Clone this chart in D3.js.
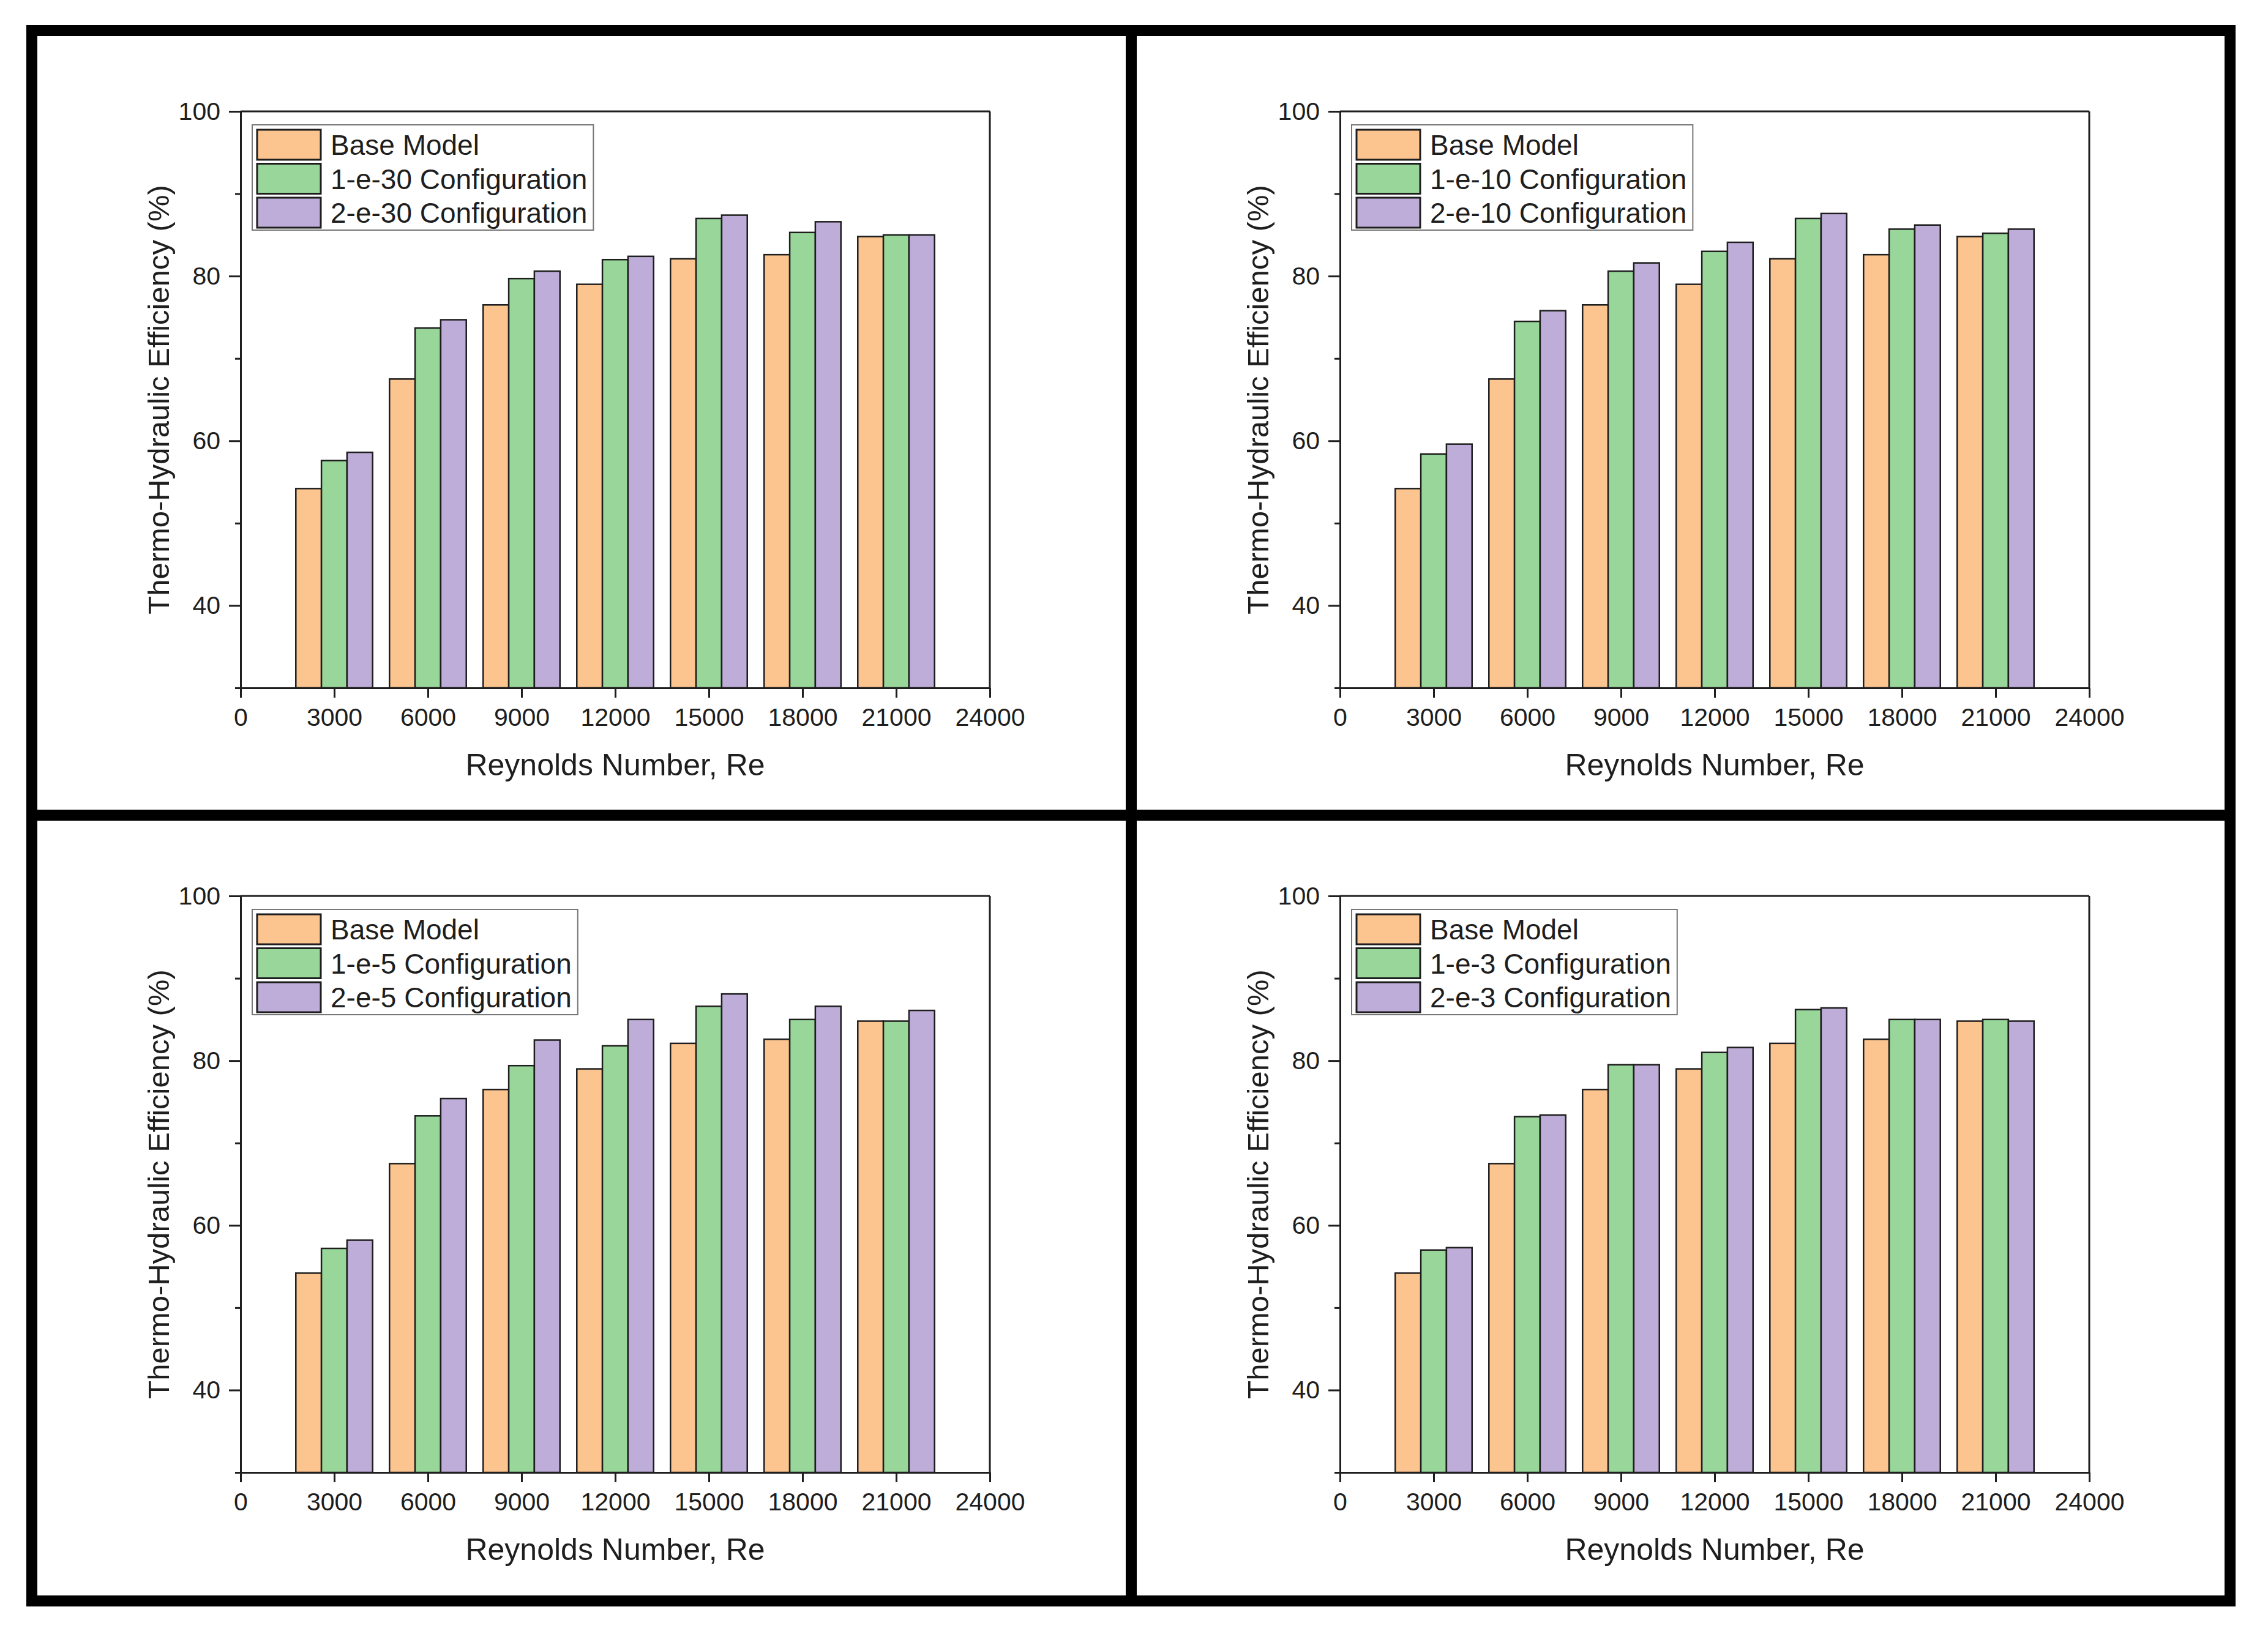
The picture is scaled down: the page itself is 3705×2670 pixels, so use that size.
<!DOCTYPE html>
<html>
<head>
<meta charset="utf-8">
<script src="https://cdn.jsdelivr.net/npm/d3@7"></script>
<style>
    body { margin: 0; background: #fff; }
    svg { display: block; font-family: 'Liberation Sans', Arial, sans-serif; }
</style>
</head>
<body>
<svg id="chart"></svg>
<script>
const WIDTH = 3705
const HEIGHT = 2670

// x categories and ticks
const reynolds = [3000, 6000, 9000, 12000, 15000, 18000, 21000]
const xTicks = [0, 3000, 6000, 9000, 12000, 15000, 18000, 21000, 24000]
const yTicks = [40, 60, 80, 100]
const yMinorTicks = [30, 50, 70, 90]

// thermo-hydraulic efficiency (%)
const baseModel = [54.2, 67.5, 76.5, 79.0, 82.1, 82.6, 84.8]
const config1e30 = [57.6, 73.7, 79.7, 82.0, 87.0, 85.3, 85.0]
const config2e30 = [58.6, 74.7, 80.6, 82.4, 87.4, 86.6, 85.0]
const config1e10 = [58.4, 74.5, 80.6, 83.0, 87.0, 85.7, 85.2]
const config2e10 = [59.6, 75.8, 81.6, 84.1, 87.6, 86.2, 85.7]
const config1e5 = [57.2, 73.3, 79.4, 81.8, 86.6, 85.0, 84.8]
const config2e5 = [58.2, 75.4, 82.5, 85.0, 88.1, 86.6, 86.1]
const config1e3 = [57.0, 73.2, 79.5, 81.0, 86.2, 85.0, 85.0]
const config2e3 = [57.3, 73.4, 79.5, 81.6, 86.4, 85.0, 84.8]

const legend1e30 = ['Base Model', '1-e-30 Configuration', '2-e-30 Configuration']
const legend1e10 = ['Base Model', '1-e-10 Configuration', '2-e-10 Configuration']
const legend1e5 = ['Base Model', '1-e-5 Configuration', '2-e-5 Configuration']
const legend1e3 = ['Base Model', '1-e-3 Configuration', '2-e-3 Configuration']

const colors = ['#fcc48f', '#98d69a', '#bdadd8']

const panels = [
    { col: 0, row: 0, series: [baseModel, config1e30, config2e30], names: legend1e30 },
    { col: 1, row: 0, series: [baseModel, config1e10, config2e10], names: legend1e10 },
    { col: 0, row: 1, series: [baseModel, config1e5, config2e5], names: legend1e5 },
    { col: 1, row: 1, series: [baseModel, config1e3, config2e3], names: legend1e3 }
]

// layout
const cellLeft = [61, 1857]
const cellTop = [59, 1341]
const plotDx = 332
const plotDy = 123
const plotW = 1224
const plotH = 942
const barWidth = 820
const ink = '#1e1e1e'

const svg = d3
    .select('#chart')
    .attr('width', WIDTH)
    .attr('height', HEIGHT)

svg.append('rect')
    .attr('width', WIDTH)
    .attr('height', HEIGHT)
    .attr('fill', '#fff')

const x = d3.scaleLinear().domain([0, 24000]).range([0, plotW])
const y = d3.scaleLinear().domain([30, 100]).range([plotH, 0])

const drawPanel = p => {
    const g = svg
        .append('g')
        .attr('transform', `translate(${cellLeft[p.col] + plotDx}, ${cellTop[p.row] + plotDy})`)

    const bars = reynolds.flatMap((re, i) =>
        p.series.map((vals, s) => ({ re, s, v: vals[i] }))
    )

    g.selectAll('rect.bar')
        .data(bars)
        .join('rect')
        .attr('class', 'bar')
        .attr('x', d => x(d.re + (d.s - 1.5) * barWidth))
        .attr('width', x(barWidth) - x(0))
        .attr('y', d => y(d.v))
        .attr('height', d => y(30) - y(d.v))
        .attr('fill', d => colors[d.s])
        .attr('stroke', ink)
        .attr('stroke-width', 2.5)

    // axes
    const xAxis = g.append('g')
        .attr('transform', `translate(0, ${plotH})`)
        .call(d3.axisBottom(x).tickValues(xTicks).tickSize(16).tickSizeOuter(0).tickPadding(17).tickFormat(d3.format('d')))

    const yAxis = g.append('g')
        .call(d3.axisLeft(y).tickValues(yTicks).tickSize(19).tickSizeOuter(0).tickPadding(14))

    g.append('g')
        .call(d3.axisLeft(y).tickValues(yMinorTicks).tickSize(9).tickSizeOuter(0).tickFormat(''))
        .select('.domain').remove()

    g.selectAll('.domain, .tick line')
        .attr('stroke', ink)
        .attr('stroke-width', 3)

    g.selectAll('.tick text')
        .attr('fill', ink)
        .style('font-size', '41px')

    // frame top and right
    g.append('line')
        .attr('x1', x(0)).attr('x2', x(24000))
        .attr('y1', y(100)).attr('y2', y(100))
        .attr('stroke', ink).attr('stroke-width', 3)
    g.append('line')
        .attr('x1', x(24000)).attr('x2', x(24000))
        .attr('y1', y(100)).attr('y2', y(30))
        .attr('stroke', ink).attr('stroke-width', 3)

    // axis titles
    g.append('text')
        .attr('x', plotW / 2)
        .attr('y', plotH + 143)
        .attr('text-anchor', 'middle')
        .attr('fill', ink)
        .style('font-size', '50px')
        .text('Reynolds Number, Re')

    g.append('text')
        .attr('transform', `translate(-117, ${plotH / 2}) rotate(-90)`)
        .attr('text-anchor', 'middle')
        .attr('fill', ink)
        .style('font-size', '49px')
        .text('Thermo-Hydraulic Efficiency (%)')

    // legend
    const lg = g.append('g').attr('transform', 'translate(19, 22)')
    const box = lg.append('rect')
        .attr('height', 172)
        .attr('fill', '#fff')
        .attr('stroke', '#777')
        .attr('stroke-width', 2)

    const items = lg.selectAll('g.item')
        .data(p.names)
        .join('g')
        .attr('class', 'item')
        .attr('transform', (d, i) => `translate(8, ${8 + i * 55.5})`)

    items.append('rect')
        .attr('width', 104)
        .attr('height', 49)
        .attr('fill', (d, i) => colors[i])
        .attr('stroke', ink)
        .attr('stroke-width', 3)

    const labels = items.append('text')
        .attr('x', 120)
        .attr('y', 25)
        .attr('dy', '0.35em')
        .attr('fill', ink)
        .style('font-size', '46px')
        .text(d => d)

    let maxLen = 0
    labels.each(function () { maxLen = Math.max(maxLen, this.getComputedTextLength()) })
    box.attr('width', 128 + maxLen + 10)
}

panels.forEach(drawPanel)

// outer frame and dividers
svg.append('rect')
    .attr('x', 52).attr('y', 50)
    .attr('width', 3643 - 52).attr('height', 2616 - 50)
    .attr('fill', 'none')
    .attr('stroke', '#000')
    .attr('stroke-width', 18)
svg.append('line')
    .attr('x1', 1848).attr('x2', 1848)
    .attr('y1', 50).attr('y2', 2616)
    .attr('stroke', '#000').attr('stroke-width', 18)
svg.append('line')
    .attr('x1', 52).attr('x2', 3643)
    .attr('y1', 1332).attr('y2', 1332)
    .attr('stroke', '#000').attr('stroke-width', 18)
</script>
</body>
</html>
